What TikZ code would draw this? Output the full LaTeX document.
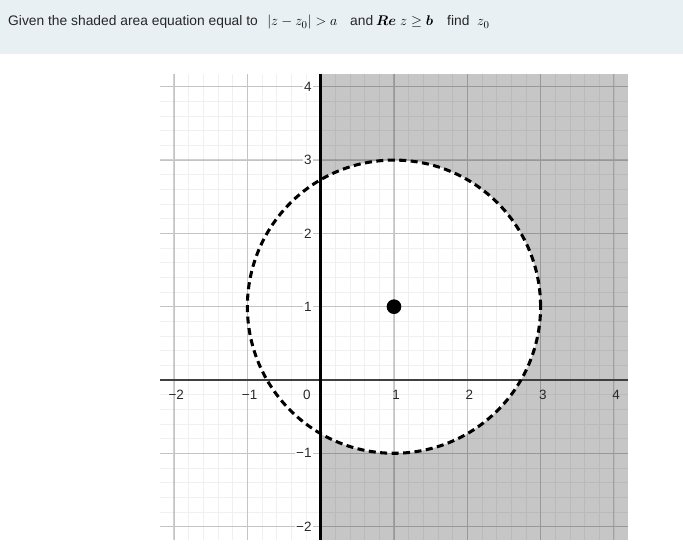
\documentclass[tikz,border=0pt]{standalone}
\usepackage{amsmath}
\usepackage{fontspec}
\setsansfont{Liberation Sans}
\definecolor{bandblue}{RGB}{233,240,243}
\definecolor{regiongray}{RGB}{198,198,198}
\definecolor{labgray}{RGB}{40,40,40}
\begin{document}
\begin{tikzpicture}[x=2.2cm, y=2.2cm, line join=round, line cap=butt,
    hdr/.style={inner sep=0pt, anchor=base west, font=\sffamily\fontsize{11.8}{14}\selectfont, text=black!85},
    hmath/.style={inner sep=0pt, anchor=base west, font=\fontsize{12.5}{14}\selectfont},
    xlab/.style={inner sep=1pt, font=\sffamily\fontsize{11.5}{13}\selectfont, text=labgray},
    ylab/.style={xlab, anchor=east, fill=white}]
    % canvas and question band
    \useasboundingbox (-4.375,-2.387) rectangle (4.943,5.184);
    \fill [white] (-4.375,-2.387) rectangle (4.943,5.184);
    \fill [bandblue] (-4.375,4.447) rectangle (4.943,5.184);
    \node[hdr] (q1) at (-4.266,4.83) {Given the shaded area equation equal to};
    \node[hmath] (q2) at (-0.732,4.83) {$|z-z_0|>a$};
    \node[hdr] (q3) at (0.400,4.83) {and};
    \node[hmath] (q4) at (0.754,4.83) {$\boldsymbol{Re}\;z\geq\boldsymbol{b}$};
    \node[hdr] (q5) at (1.723,4.83) {find};
    \node[hmath] (q6) at (2.132,4.83) {$z_0$};
    % shaded region: Re z >= 0 outside the circle
    \fill [regiongray] (0,-2.18) rectangle (4.19,4.18);
    \fill [white] (1,1) circle (2);
    % grid
    \draw [black, opacity=0.06, line width=0.6pt] (-2.19,-2.18) grid[step=0.2] (4.19,4.18);
    \draw [black, opacity=0.18, line width=1pt] (-2.19,-2.18) grid[step=1] (4.19,4.18);
    % axes
    \draw [black!75, line width=1.3pt] (-2.19,0) -- (4.19,0);
    \draw [black, line width=2.6pt] (0,-2.18) -- (0,4.18);
    % boundary circle and centre
    \draw [black, line width=2.6pt, dash pattern=on 6pt off 3.8pt] (1,1) circle (2);
    \fill [black] (1,1) circle (0.1);
    % tick labels
    \foreach \x/\t in {-2/−2, -1/−1, 1/1, 2/2, 3/3, 4/4}
        \node[xlab] (x\x) at (\x+0.03,-0.2) {\t};
    \node[xlab] (x0) at (-0.19,-0.2) {0};
    \foreach \y/\t in {-2/−2, -1/−1, 1/1, 2/2, 3/3, 4/4}
        \node[ylab] (y\y) at (-0.105,\y) {\t};
\end{tikzpicture}
\end{document}
